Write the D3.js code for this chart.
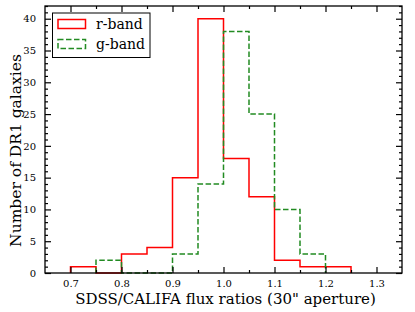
<!DOCTYPE html>
<html><head><meta charset="utf-8">
<script src="https://cdn.jsdelivr.net/npm/d3@7"></script>
<style>body{margin:0;background:#fff}svg{display:block}text{font-family:"DejaVu Serif",serif;fill:#000}</style>
</head><body>
<svg id="c" width="415" height="312"></svg>
<script>
const binEdges = [0.65,0.70,0.75,0.80,0.85,0.90,0.95,1.00,1.05,1.10,1.15,1.20,1.25,1.30,1.35];
const rBand = [0,1,0,3,4,15,40,18,12,2,1,1,0,0];
const gBand = [0,0,2,0,0,3,14,38,25,10,3,0,0,0];
const xTicks = [0.7,0.8,0.9,1.0,1.1,1.2,1.3];
const yTicks = [0,5,10,15,20,25,30,35,40];
const seriesNames = ["r-band","g-band"];

const svg = d3.select("#c");
const L=45,R=402,T=6,B=273;
const x = d3.scaleLinear().domain([0.65,1.35]).range([L,R]);
const y = d3.scaleLinear().domain([0,42]).range([B,T]);

function stepPath(vals){
  let first = vals.findIndex(v=>v>0), last = vals.length-1 - [...vals].reverse().findIndex(v=>v>0);
  const pts=[[binEdges[first],0]];
  for(let i=first;i<=last;i++){pts.push([binEdges[i],vals[i]]);pts.push([binEdges[i+1],vals[i]]);}
  pts.push([binEdges[last+1],0]);
  return d3.line().x(d=>x(d[0])).y(d=>y(d[1]))(pts);
}

svg.append("path").attr("d",stepPath(rBand)).attr("fill","none").attr("stroke","#ff0000").attr("stroke-width",1.5);
svg.append("path").attr("d",stepPath(gBand)).attr("fill","none").attr("stroke","#228b22").attr("stroke-width",1.5).attr("stroke-dasharray","5.5,2.5");

function noText(g){g.selectAll(".tick text").remove();}
svg.append("g").attr("transform",`translate(0,${B})`)
 .call(d3.axisBottom(x).tickValues(xTicks).tickFormat(d3.format(".1f")).tickSizeInner(-6).tickSizeOuter(0).tickPadding(7));
svg.append("g").attr("transform",`translate(0,${T})`)
 .call(d3.axisTop(x).tickValues(xTicks).tickSizeInner(-6).tickSizeOuter(0)).call(noText);
svg.append("g").attr("transform",`translate(${L},0)`)
 .call(d3.axisLeft(y).tickValues(yTicks).tickSizeInner(-6).tickSizeOuter(0).tickPadding(9));
svg.append("g").attr("transform",`translate(${R},0)`)
 .call(d3.axisRight(y).tickValues(yTicks).tickSizeInner(-6).tickSizeOuter(0)).call(noText);
const xMinor = binEdges.filter(v=>!xTicks.some(t=>Math.abs(t-v)<1e-9) && v>0.66 && v<1.34);
const yMinor = d3.range(0,43).filter(v=>v%5!==0);
svg.append("g").attr("transform",`translate(0,${B})`).call(d3.axisBottom(x).tickValues(xMinor).tickSizeInner(-3).tickSizeOuter(0)).call(noText);
svg.append("g").attr("transform",`translate(0,${T})`).call(d3.axisTop(x).tickValues(xMinor).tickSizeInner(-3).tickSizeOuter(0)).call(noText);
svg.append("g").attr("transform",`translate(${L},0)`).call(d3.axisLeft(y).tickValues(yMinor).tickSizeInner(-3).tickSizeOuter(0)).call(noText);
svg.append("g").attr("transform",`translate(${R},0)`).call(d3.axisRight(y).tickValues(yMinor).tickSizeInner(-3).tickSizeOuter(0)).call(noText);
svg.selectAll(".domain").remove();
svg.selectAll(".tick line").attr("stroke","#000").attr("stroke-width",1.2);
svg.selectAll(".tick text").style("font-size","10px").style("font-family","DejaVu Serif");
svg.append("rect").attr("x",L).attr("y",T).attr("width",R-L).attr("height",B-T).attr("fill","none").attr("stroke","#000").attr("stroke-width",1.3);

svg.append("text").attr("x",(L+R)/2+2).attr("y",304).attr("text-anchor","middle").style("font-size","15px").text('SDSS/CALIFA flux ratios (30" aperture)');
svg.append("text").attr("transform",`translate(21,${(T+B)/2+11}) rotate(-90)`).attr("text-anchor","middle").style("font-size","15.5px").text("Number of DR1 galaxies");

const lg = svg.append("g");
lg.append("rect").attr("x",52.5).attr("y",13).attr("width",97.5).attr("height",44.5).attr("fill","#fff").attr("stroke","#000").attr("stroke-width",1);
const styles=[{c:"#ff0000",d:null},{c:"#228b22",d:"5.5,2.5"}];
seriesNames.forEach((n,i)=>{
  const yy=19.5+i*20;
  lg.append("rect").attr("x",58).attr("y",yy).attr("width",27.5).attr("height",9).attr("fill","none")
    .attr("stroke",styles[i].c).attr("stroke-width",1.5).attr("stroke-dasharray",styles[i].d);
  lg.append("text").attr("x",96).attr("y",yy+9.5).style("font-size","14px").text(n);
});
</script>
</body></html>
